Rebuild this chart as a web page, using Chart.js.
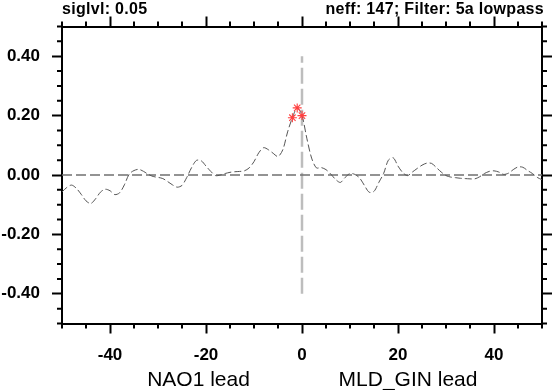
<!DOCTYPE html>
<html><head><meta charset="utf-8">
<script src="https://cdn.jsdelivr.net/npm/chart.js@4.4.1/dist/chart.umd.min.js"></script>
<style>html,body{margin:0;padding:0;background:#fff;}canvas{display:block;}</style>
</head><body>
<canvas id="c" width="553" height="390"></canvas>
<script>
// ---- data ----
const lags = [-50,-49,-48,-47,-46,-45,-44,-43,-42,-41,-40,-39,-38,-37,-36,-35,-34,-33,-32,-31,
  -30,-29,-28,-27,-26,-25,-24,-23,-22,-21,-20,-19,-18,-17,-16,-15,-14,-13,-12,-11,
  -10,-9,-8,-7,-6,-5,-4,-3,-2,-1,0,1,2,3,4,5,6,7,8,9,
  10,11,12,13,14,15,16,17,18,19,20,21,22,23,24,25,26,27,28,29,
  30,31,32,33,34,35,36,37,38,39,40,41,42,43,44,45,46,47,48,49,50];
const corr = [-0.057,-0.042,-0.034,-0.045,-0.065,-0.087,-0.096,-0.080,-0.058,-0.048,
  -0.053,-0.066,-0.060,-0.033,0.003,0.015,0.019,0.012,0.002,-0.005,
  -0.008,-0.012,-0.022,-0.033,-0.041,-0.035,-0.008,0.025,0.049,0.048,
  0.030,0.012,-0.002,0.000,0.005,0.009,0.011,0.012,0.014,0.024,
  0.045,0.075,0.092,0.085,0.073,0.062,0.085,0.145,0.193,0.226,
  0.200,0.124,0.057,0.024,0.025,0.018,0.003,-0.015,-0.025,-0.008,
  0.005,0.002,-0.010,-0.035,-0.058,-0.055,-0.025,0.005,0.050,0.058,
  0.030,0.008,-0.002,0.010,0.022,0.033,0.040,0.039,0.025,0.010,
  -0.002,-0.007,-0.009,-0.011,-0.012,-0.013,-0.013,-0.006,0.005,0.012,
  0.014,0.010,0.002,0.006,0.018,0.027,0.026,0.015,0.005,-0.008,-0.016];
const sigLags = [-2,-1,0];
const xRange = [-50,50];
const yRange = [-0.5,0.5];
const xMajorTicks = [-40,-20,0,20,40];
const xMinorTicks = [-50,-45,-35,-30,-25,-15,-10,-5,5,10,15,25,30,35,45,50];
const yMajorTicks = [-0.4,-0.2,0,0.2,0.4];
const yMinorTicks = [-0.5,-0.45,-0.35,-0.3,-0.25,-0.15,-0.1,-0.05,0.05,0.1,0.15,0.25,0.3,0.35,0.45,0.5];
const zeroLineY = 0;
const lagZeroX = 0;
const lagZeroSpan = [-0.4,0.4];
const titleLeft = 'siglvl: 0.05';
const titleRight = 'neff: 147; Filter: 5a lowpass';
const xTitleLeft = 'NAO1 lead';
const xTitleRight = 'MLD_GIN lead';

// ---- build ----
const curvePts = lags.map((l,i)=>({x:l,y:corr[i]}));
const sigPts = sigLags.map(l=>({x:l,y:corr[lags.indexOf(l)]}));
const FONT = '"Liberation Sans", Arial, Helvetica, sans-serif';

const decor = {
  id:'decor',
  afterDraw(chart){
    const ctx=chart.ctx, a=chart.chartArea, sx=chart.scales.x, sy=chart.scales.y;
    ctx.save();
    ctx.strokeStyle='#000'; ctx.lineWidth=2;
    ctx.beginPath();
    xMinorTicks.forEach(v=>{const p=sx.getPixelForValue(v);
      ctx.moveTo(p,a.bottom); ctx.lineTo(p,a.bottom+5);
      ctx.moveTo(p,a.top); ctx.lineTo(p,a.top-5);});
    yMinorTicks.forEach(v=>{const p=sy.getPixelForValue(v);
      ctx.moveTo(a.left,p); ctx.lineTo(a.left-5,p);
      ctx.moveTo(a.right,p); ctx.lineTo(a.right+5,p);});
    ctx.stroke();
    ctx.fillStyle='#000';
    ctx.font='bold 16px '+FONT;
    try{ctx.letterSpacing='0.3px';}catch(e){}
    ctx.textBaseline='alphabetic';
    ctx.textAlign='left'; ctx.fillText(titleLeft, a.left, 14);
    ctx.textAlign='right'; ctx.fillText(titleRight, a.right+2, 14);
    try{ctx.letterSpacing='0px';}catch(e){}
    ctx.font='21px '+FONT;
    ctx.textAlign='center';
    ctx.fillText(xTitleLeft, 198.5, 385.5);
    ctx.fillText(xTitleRight, 408, 385.5);
    ctx.restore();
  }
};

const tickFont = {family:FONT, size:17, weight:'bold'};
const gridOpt = {drawOnChartArea:false, drawTicks:true, tickLength:10, tickWidth:2, tickColor:'#000'};
const borderOpt = {display:true, color:'#000', width:2};

new Chart(document.getElementById('c'), {
  type:'scatter',
  data:{datasets:[
    {label:'sig', data:sigPts, showLine:false, pointStyle:'star', pointRadius:4.5,
     borderColor:'#ff4040', backgroundColor:'#ff4040', borderWidth:1.1, order:0},
    {label:'corr', data:curvePts, showLine:true, pointRadius:0, borderColor:'#555555',
     borderWidth:1, borderDash:[7,3], tension:0.3, order:1},
    {label:'zero', data:[{x:xRange[0],y:zeroLineY},{x:xRange[1],y:zeroLineY}], showLine:true, pointRadius:0,
     borderColor:'#707070', borderWidth:1.3, borderDash:[10,4], order:2},
    {label:'lag0', data:[{x:lagZeroX,y:lagZeroSpan[0]},{x:lagZeroX,y:lagZeroSpan[1]}], showLine:true, pointRadius:0,
     borderColor:'#bdbdbd', borderWidth:2.5, borderDash:[16,5], order:3}
  ]},
  options:{
    responsive:false, animation:false, devicePixelRatio:1,
    layout:{padding:0},
    plugins:{legend:{display:false}, tooltip:{enabled:false}},
    scales:{
      x:{type:'linear', position:'bottom', min:xRange[0], max:xRange[1],
         afterBuildTicks:s=>{s.ticks=xMajorTicks.map(v=>({value:v}));},
         ticks:{font:tickFont, color:'#000', padding:12, maxRotation:0, autoSkip:false, callback:v=>String(v)},
         grid:gridOpt, border:borderOpt,
         afterFit:s=>{s.height=66.5;}},
      xTop:{type:'linear', position:'top', min:xRange[0], max:xRange[1],
         afterBuildTicks:s=>{s.ticks=xMajorTicks.map(v=>({value:v}));},
         ticks:{display:false}, grid:gridOpt, border:borderOpt,
         afterFit:s=>{s.height=26.5;}},
      y:{type:'linear', position:'left', min:yRange[0], max:yRange[1],
         afterBuildTicks:s=>{s.ticks=yMajorTicks.map(v=>({value:v}));},
         ticks:{font:tickFont, color:'#000', padding:12, autoSkip:false, callback:v=>Number(v).toFixed(2)},
         grid:gridOpt, border:borderOpt,
         afterFit:s=>{s.width=62;}},
      yRight:{type:'linear', position:'right', min:yRange[0], max:yRange[1],
         afterBuildTicks:s=>{s.ticks=yMajorTicks.map(v=>({value:v}));},
         ticks:{display:false}, grid:gridOpt, border:borderOpt,
         afterFit:s=>{s.width=11;}}
    }
  },
  plugins:[decor]
});
</script>
</body></html>
